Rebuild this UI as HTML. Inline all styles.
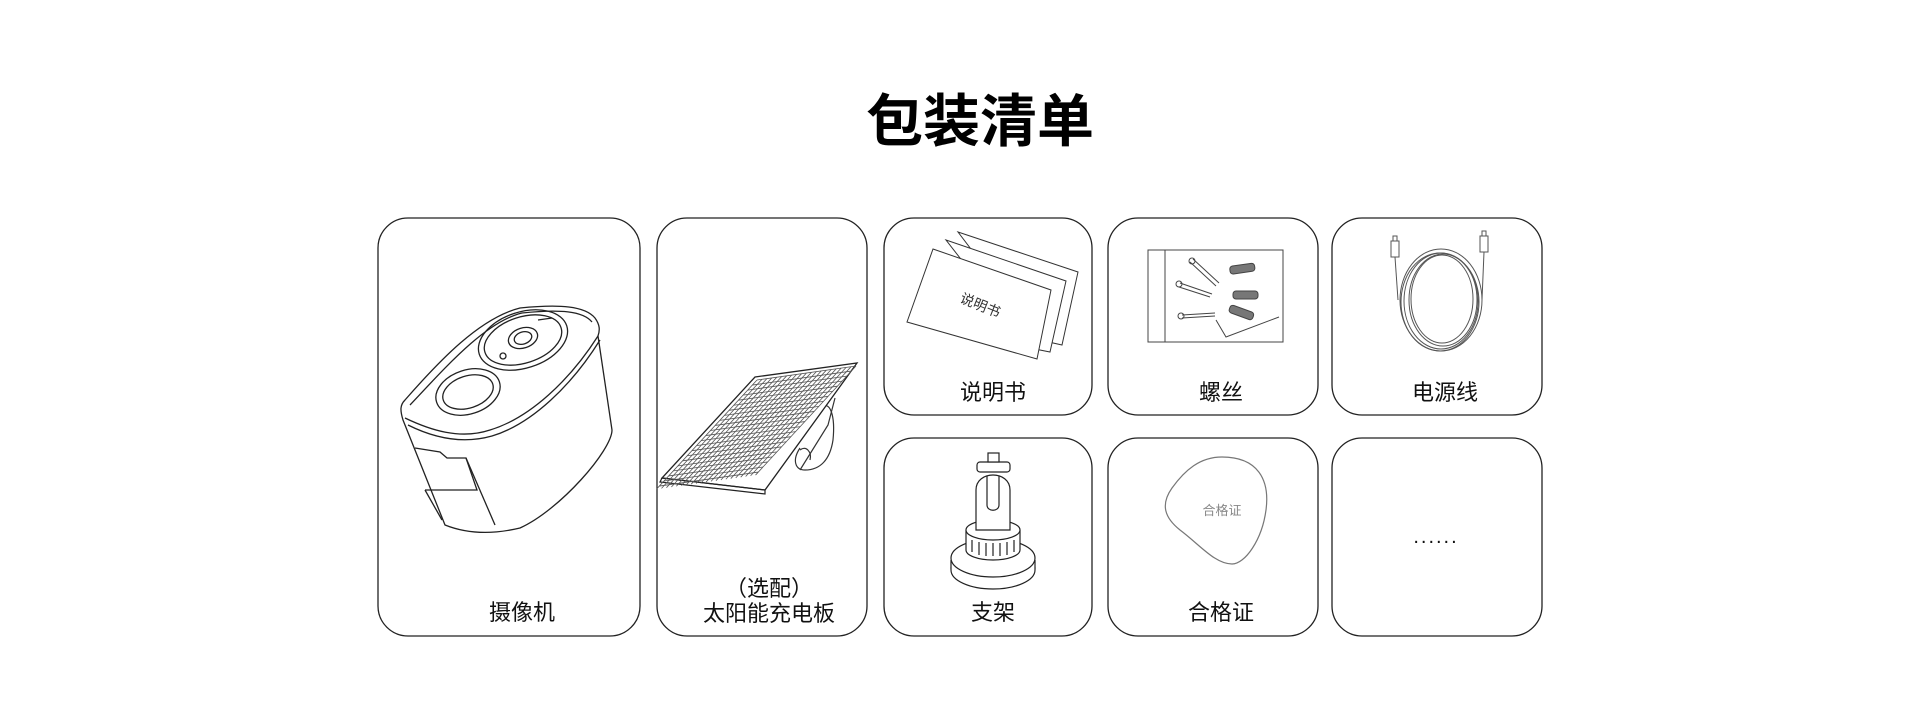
<!DOCTYPE html>
<html><head><meta charset="utf-8"><style>
html,body{margin:0;padding:0;background:#fff;}
body{width:1920px;height:722px;overflow:hidden;}
svg{display:block}
text{font-family:"Liberation Sans","Noto Sans CJK SC",sans-serif;}
</style></head><body>
<svg width="1920" height="722" viewBox="0 0 1920 722" xmlns="http://www.w3.org/2000/svg">
<text x="980" y="141" font-size="57" font-weight="bold" text-anchor="middle" fill="#000">包装清单</text>
<g fill="none" stroke="#222" stroke-width="1.3">
<rect x="378" y="218" width="262" height="418" rx="30"/>
<rect x="657" y="218" width="210" height="418" rx="30"/>
<rect x="884" y="218" width="208" height="197" rx="30"/>
<rect x="1108" y="218" width="210" height="197" rx="30"/>
<rect x="1332" y="218" width="210" height="197" rx="30"/>
<rect x="884" y="438" width="208" height="198" rx="30"/>
<rect x="1108" y="438" width="210" height="198" rx="30"/>
<rect x="1332" y="438" width="210" height="198" rx="30"/>
</g>
<g font-size="22" text-anchor="middle" fill="#111">
<text x="522" y="620">摄像机</text>
<text x="769" y="596">（选配）</text>
<text x="769" y="621">太阳能充电板</text>
<text x="993" y="400">说明书</text>
<text x="1221" y="400">螺丝</text>
<text x="1445" y="400">电源线</text>
<text x="993" y="620">支架</text>
<text x="1221" y="620">合格证</text>
<text x="1436" y="543" font-size="20" letter-spacing="2">......</text>
</g>
<!-- camera -->
<g fill="none" stroke="#222" stroke-width="1.3">
<path d="M405,400 C440,360 480,318 520,308 C560,304 585,306 595,318 C600,325 600,330 598,336 L612,430 C612,450 560,510 520,528 C495,534 470,535 445,525 L403,420 C400,410 400,405 405,400 Z"/>
<path d="M410,405 C445,368 485,322 522,313 C560,309 583,311 592,322"/>
<path d="M405,418 C430,430 460,440 490,430 C530,418 570,380 598,336"/>
<path d="M408,425 C430,436 460,445 492,436 C532,424 572,385 600,340"/>
<ellipse cx="468" cy="392" rx="33" ry="22" transform="rotate(-18 468 392)"/>
<ellipse cx="468" cy="392" rx="26" ry="16" transform="rotate(-18 468 392)"/>
<ellipse cx="523" cy="340" rx="46" ry="28" transform="rotate(-18 523 340)"/>
<ellipse cx="523" cy="340" rx="40" ry="23" transform="rotate(-18 523 340)"/>
<ellipse cx="523" cy="338" rx="15" ry="10" transform="rotate(-18 523 338)"/>
<ellipse cx="523" cy="338" rx="9" ry="6" transform="rotate(-18 523 338)"/>
<circle cx="503" cy="356" r="3"/>
<path d="M538,320 L552,318"/>
<path d="M415,448 L440,452 L447,458 L466,458 L477,490 L425,490"/>
<path d="M425,490 L442,520"/>
<path d="M466,458 L495,525"/>
</g>
<!-- solar panel -->
<g fill="none" stroke="#333" stroke-width="1.2">
<path d="M817,410 C832,395 835,420 833,440 C830,460 820,470 805,470 C795,470 792,460 800,448"/>
<path d="M800,450 C806,445 812,452 810,460"/>
<path d="M835,398 L828,425 L800,470"/>
<polygon points="755,377 857,363 765,490 662,478" fill="#fff" stroke="#222" stroke-width="1.3"/>
<polygon points="662,478 765,490 765,494 660,482" stroke="#222"/>
<g transform="matrix(0.99,-0.14,-0.93,1.01,757,380)" stroke="#555">
<path vector-effect="non-scaling-stroke" stroke-width="0.8" d="M0,0V108M5,0V108M10,0V108M15,0V108M20,0V108M25,0V108M30,0V108M35,0V108M40,0V108M45,0V108M50,0V108M55,0V108M60,0V108M65,0V108M70,0V108M75,0V108M80,0V108M85,0V108M90,0V108M95,0V108M100,0V108"/>
<path vector-effect="non-scaling-stroke" stroke-width="0.8" d="M0,0H100M0,5H100M0,10H100M0,15H100M0,20H100M0,25H100M0,30H100M0,35H100M0,40H100M0,45H100M0,50H100M0,55H100M0,60H100M0,65H100M0,70H100M0,75H100M0,80H100M0,85H100M0,90H100M0,95H100M0,100H100M0,105H100"/>
</g>
</g>
<!-- manual -->
<g fill="#fff" stroke="#333" stroke-width="1">
<polygon points="958,232 1078,272 1062,345 1040,340"/>
<polygon points="946,240 1066,281 1050,352 1030,348"/>
<polygon points="933,249 1051,290 1037,359 907,322"/>
<text x="980" y="310" font-size="14" fill="#333" stroke="none" text-anchor="middle" transform="rotate(22 980 306)">说明书</text>
</g>
<!-- screws -->
<g fill="none" stroke="#444" stroke-width="1">
<rect x="1148" y="250" width="135" height="92"/>
<line x1="1165" y1="250" x2="1165" y2="342"/>
<path d="M1193,259 L1219,283 M1190,262 L1216,286" /><circle cx="1192" cy="261" r="3"/>
<path d="M1180,283 L1212,294 M1179,287 L1210,297"/><circle cx="1179" cy="284" r="3"/>
<path d="M1182,315 L1215,313 M1182,318 L1215,316"/><circle cx="1181" cy="316" r="3"/>
<g fill="#777"><rect x="1230" y="265" width="25" height="8" rx="3" transform="rotate(-8 1240 270)"/>
<rect x="1233" y="291" width="25" height="8" rx="3"/>
<rect x="1229" y="308" width="25" height="8" rx="3" transform="rotate(20 1240 312)"/></g>
<path d="M1216,320 L1226,337 L1279,317"/>
</g>
<!-- cable -->
<g fill="none" stroke="#555" stroke-width="1">
<ellipse cx="1441" cy="300" rx="41" ry="51"/>
<ellipse cx="1441" cy="301" rx="37" ry="48"/>
<ellipse cx="1443" cy="300" rx="34" ry="46"/>
<ellipse cx="1440" cy="302" rx="39" ry="49"/>
<ellipse cx="1442" cy="299" rx="31" ry="44"/>
<path d="M1395,257 L1398,300"/>
<path d="M1484,252 L1482,300"/>
<rect x="1391" y="241" width="8" height="16"/><rect x="1393" y="236" width="4" height="5"/>
<rect x="1480" y="236" width="8" height="16"/><rect x="1482" y="231" width="4" height="5"/>
</g>
<!-- stand -->
<g fill="#fff" stroke="#222" stroke-width="1.2">
<ellipse cx="993" cy="568" rx="42" ry="19"/>
<path d="M951,560 L951,570 A42,19 0 0 0 1035,570 L1035,560"/>
<ellipse cx="993" cy="558" rx="42" ry="19"/>
<path d="M966,530 L966,550 A27,10 0 0 0 1020,550 L1020,530"/>
<ellipse cx="993" cy="530" rx="27" ry="10"/>
<path d="M972,540 V552 M979,542 V555 M986,543 V556 M993,543 V556 M1000,543 V556 M1007,542 V555 M1014,540 V552" fill="none"/>
<path d="M976,530 L976,490 C976,470 1010,470 1010,490 L1010,530 Z"/>
<path d="M987,476 L987,505 C987,512 999,512 999,505 L999,476" fill="none"/>
<rect x="977" y="462" width="33" height="10" rx="3"/>
<rect x="988" y="453" width="11" height="9"/>
</g>
<!-- certificate -->
<path d="M1222,457 C1258,457 1270,480 1266,510 C1262,540 1245,564 1232,564 C1215,564 1200,545 1180,530 C1165,518 1160,505 1172,488 C1185,470 1200,457 1222,457 Z" fill="none" stroke="#777" stroke-width="1.2"/>
<text x="1222" y="515" font-size="13" fill="#888" text-anchor="middle">合格证</text>
</svg>
</body></html>
